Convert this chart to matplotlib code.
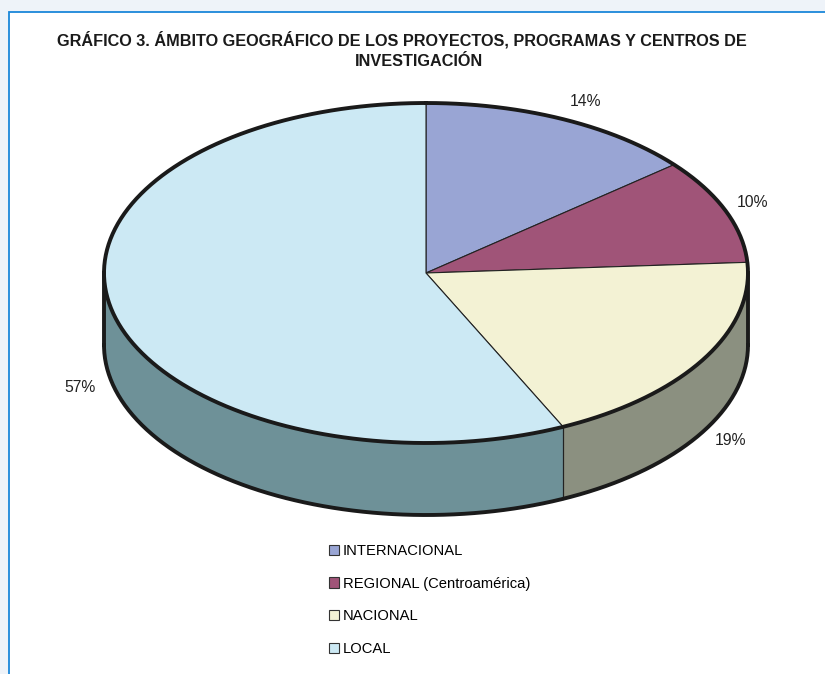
import numpy as np
import matplotlib.pyplot as plt
from matplotlib.patches import Polygon, Rectangle, Patch

# data
labels = ['INTERNACIONAL', 'REGIONAL (Centroamérica)', 'NACIONAL', 'LOCAL']
values = [14, 10, 19, 57]
top_colors = ['#99a5d4', '#a05478', '#f3f2d4', '#cce9f4']
side_colors = ['#5f6a93', '#6c3550', '#8b9080', '#6e9198']

fig = plt.figure(figsize=(8.25, 6.74), dpi=100)
fig.patch.set_facecolor('#eef3f9')
ax = fig.add_axes([0, 0, 1, 1])
ax.set_xlim(0, 825)
ax.set_ylim(674, 0)
ax.axis('off')

# white panel with blue frame
ax.add_patch(Rectangle((9, 12), 900, 800, facecolor='white', edgecolor='#1a87d9', lw=1.3))

# pie geometry (pixels)
cx, cy, rx, ry, depth = 426, 273, 322, 170, 72


def arc(t0, t1, n=200, dy=0):
    t = np.linspace(t0, t1, n)
    return np.column_stack([cx + rx * np.sin(t), cy - ry * np.cos(t) + dy])


fr = np.array(values) / sum(values)
edges = np.concatenate([[0], np.cumsum(fr)]) * 2 * np.pi

# side walls (only the front half is visible)
lo, hi = np.pi / 2, 3 * np.pi / 2
for i in range(len(values)):
    a, b = max(edges[i], lo), min(edges[i + 1], hi)
    if a >= b:
        continue
    top = arc(a, b)
    bot = arc(a, b, dy=depth)[::-1]
    ax.add_patch(Polygon(np.vstack([top, bot]), closed=True, facecolor=side_colors[i],
                         edgecolor='none', zorder=2))
    # internal vertical edges
    for e in edges[1:-1]:
        if lo < e < hi:
            p = arc(e, e, n=1)[0]
            ax.plot([p[0], p[0]], [p[1], p[1] + depth], color='#222222', lw=0.8, zorder=3)

# top wedges
for i in range(len(values)):
    pts = np.vstack([[cx, cy], arc(edges[i], edges[i + 1])])
    ax.add_patch(Polygon(pts, closed=True, facecolor=top_colors[i], edgecolor='#222222',
                         lw=0.8, zorder=4))

# outer outline
ell = arc(0, 2 * np.pi, 400)
ax.plot(ell[:, 0], ell[:, 1], color='#1a1a1a', lw=2.8, zorder=5)
b = arc(lo, hi, dy=depth)
ax.plot(b[:, 0], b[:, 1], color='#1a1a1a', lw=2.8, zorder=5)
for t in (lo, hi):
    p = arc(t, t, n=1)[0]
    ax.plot([p[0], p[0]], [p[1], p[1] + depth], color='#1a1a1a', lw=2.8, zorder=5)

# percentage labels
k = 1.12
offs = [(6, 1), (-9, 0), (-6, -1), (6, 1)]
for i in range(len(values)):
    m = (edges[i] + edges[i + 1]) / 2
    x = cx + rx * k * np.sin(m) + offs[i][0]
    y = cy - ry * k * np.cos(m) + offs[i][1]
    if np.cos(m) < 0:
        y += depth
    ax.text(x, y, f'{values[i]}%', ha='center', va='center', fontsize=11.3,
            family='Liberation Sans', color='#222222', zorder=6)

# title
fig.text(0.487, 1 - 40 / 674, 'GRÁFICO 3. ÁMBITO GEOGRÁFICO DE LOS PROYECTOS, PROGRAMAS Y CENTROS DE',
         ha='center', va='center', fontsize=11.7, fontweight='bold',
         family='Liberation Sans', color='#1a1a1a')
fig.text(0.508, 1 - 61 / 674, 'INVESTIGACIÓN', ha='center', va='center', fontsize=11.7,
         fontweight='bold', family='Liberation Sans', color='#1a1a1a')

# legend
handles = [Patch(facecolor=c, edgecolor='#333333', lw=0.8) for c in top_colors]
ax.legend(handles, labels, loc='upper left', bbox_to_anchor=(329 / 825, 1 - 544 / 674),
          frameon=False, handlelength=0.7, handleheight=0.7, handletextpad=0.25,
          labelspacing=1.27, borderpad=0, borderaxespad=0,
          prop={'family': 'Liberation Sans', 'size': 10.6})

fig.savefig('out.png', dpi=100, facecolor=fig.get_facecolor())
